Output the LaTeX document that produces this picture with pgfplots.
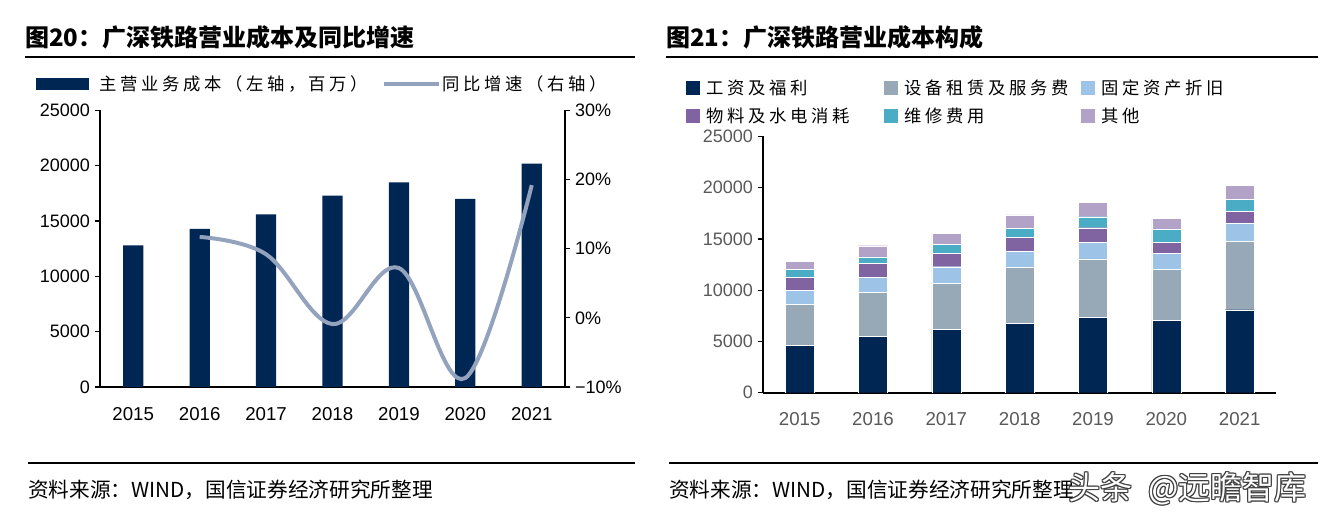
\documentclass[border=0pt]{standalone}
\usepackage{pgfplots}
\pgfplotsset{compat=1.18}
\usepackage{fontspec}
\setmainfont{Liberation Sans}
\newfontfamily\cjk{Noto Sans CJK SC}
\newfontfamily\cjkls{Noto Sans CJK SC}[LetterSpace=21]
\definecolor{navy}{HTML}{002654}
\definecolor{lineg}{HTML}{94A3BD}
\definecolor{grayb}{HTML}{97A9B7}
\definecolor{lblue}{HTML}{9DC3E6}
\definecolor{purp}{HTML}{8064A2}
\definecolor{teal2}{HTML}{4BACC6}
\definecolor{lav}{HTML}{B3A2C7}
\definecolor{tickgray}{HTML}{595959}
\pgfplotsset{
  base/.style={
    scale only axis, anchor=south west,
    xmin=-0.5, xmax=6.5,
    tick align=outside, major tick length=4pt,
    xtick style={draw=none},
    ytick style={black, line width=0.9pt},
    axis line style={-, black},
    scaled y ticks=false,
    /pgf/number format/1000 sep={},
    /pgf/number format/assume math mode=true,
    ticklabel style={font=\fontsize{13.5}{15}\selectfont},
    xticklabel style={yshift=-7.5pt, font=\fontsize{14}{16}\selectfont},
    xtick={0,...,6},
    xticklabels={2015,2016,2017,2018,2019,2020,2021},
  }
}
\begin{document}
\begin{tikzpicture}[x=0.75pt,y=0.75pt]
\path[use as bounding box, fill=white] (0,0) rectangle (1323,517);
% ---------- titles ----------
\node[anchor=west, inner sep=0pt] at (25,480) {\cjk\bfseries\fontsize{18}{20}\selectfont 图20：广深铁路营业成本及同比增速};
\draw[line width=1.2pt] (25,460) -- (635,460);
\node[anchor=west, inner sep=0pt] at (666,480) {\cjk\bfseries\fontsize{18}{20}\selectfont 图21：广深铁路营业成本构成};
\draw[line width=1.2pt] (666,460) -- (1318,460);
% ---------- footers ----------
\draw[line width=1.5pt] (28,54) -- (635,54);
\draw[line width=1.5pt] (669,54) -- (1318,54);
\node[anchor=west, inner sep=0pt] at (28,27) {\cjk\fontsize{15.5}{17}\selectfont 资料来源：WIND，国信证券经济研究所整理};
\node[anchor=west, inner sep=0pt] at (669,27) {\cjk\fontsize{15.5}{17}\selectfont 资料来源：WIND，国信证券经济研究所整理};
% watermark
\foreach \dx/\dy in {-1/0,1/0,0/-1,0/1,-1/-1,1/1,-1/1,1/-1}{
  \node[anchor=west, inner sep=0pt, text=black!75] at (1068+\dx,28+\dy) {\cjk\fontsize{24}{27}\selectfont 头条\hspace{12pt}@远瞻智库};
}
\node[anchor=west, inner sep=0pt, text=white] at (1068,28) {\cjk\fontsize{24}{27}\selectfont 头条\hspace{12pt}@远瞻智库};
% ---------- left legend ----------
\fill[navy] (36,427) rectangle (89,439);
\node[anchor=west, inner sep=0pt] at (99,433) {\cjkls\fontsize{13}{15}\selectfont 主营业务成本（左轴，百万）};
\draw[lineg, line width=3pt] (384,433) -- (439,433);
\node[anchor=west, inner sep=0pt] at (442,433) {\cjkls\fontsize{13}{15}\selectfont 同比增速（右轴）};
% ---------- right legend ----------
\fill[navy]  (686,422) rectangle (700,436);
\fill[grayb] (884,422) rectangle (898,436);
\fill[lblue] (1081,422) rectangle (1095,436);
\fill[purp]  (686,394) rectangle (700,408);
\fill[teal2] (884,394) rectangle (898,408);
\fill[lav]   (1081,394) rectangle (1095,408);
\node[anchor=west, inner sep=0pt] at (706,429) {\cjkls\fontsize{13}{15}\selectfont 工资及福利};
\node[anchor=west, inner sep=0pt] at (904,429) {\cjkls\fontsize{13}{15}\selectfont 设备租赁及服务费};
\node[anchor=west, inner sep=0pt] at (1101,429) {\cjkls\fontsize{13}{15}\selectfont 固定资产折旧};
\node[anchor=west, inner sep=0pt] at (706,401) {\cjkls\fontsize{13}{15}\selectfont 物料及水电消耗};
\node[anchor=west, inner sep=0pt] at (904,401) {\cjkls\fontsize{13}{15}\selectfont 维修费用};
\node[anchor=west, inner sep=0pt] at (1101,401) {\cjkls\fontsize{13}{15}\selectfont 其他};
% ---------- left chart ----------
\begin{axis}[base,
  at={(75pt,97.5pt)}, width=348.75pt, height=207.45pt,
  ymin=0, ymax=25000, ytick={0,5000,...,25000},
  axis x line*=bottom, axis y line*=left,
  x axis line style={line width=1.5pt},
  y axis line style={line width=0.9pt},
]
\addplot[ybar, bar width=15.2pt, fill=navy, draw=none] coordinates {
(0,12800) (1,14300) (2,15600) (3,17300) (4,18500) (5,17000) (6,20200)};
\end{axis}
\begin{axis}[base,
  at={(75pt,97.5pt)}, width=348.75pt, height=207.45pt,
  ymin=-10, ymax=30, ytick={-10,0,10,20,30},
  yticklabels={−10\%,0\%,10\%,20\%,30\%},
  axis x line=none, axis y line*=right,
  y axis line style={line width=0.9pt},
]
\addplot[lineg, line width=3pt, smooth, tension=0.6] coordinates {
(1,11.7) (2,9.2) (3,-0.9) (4,7.2) (5,-8.7) (6,19.2)};
\end{axis}
% ---------- right chart ----------
\begin{axis}[base,
  at={(572.25pt,93.2pt)}, width=385pt, height=192.2pt,
  ybar stacked, bar width=21.8pt,
  ymin=0, ymax=25000, ytick={0,5000,...,25000},
  axis x line*=bottom, axis y line*=left,
  x axis line style={line width=1.8pt},
  y axis line style={line width=0.9pt},
  ticklabel style={text=tickgray},
]
\addplot[fill=navy, draw=white, line width=0.3pt] coordinates {(0,4650) (1,5530) (2,6210) (3,6800) (4,7380) (5,7090) (6,8100)};
\addplot[fill=grayb, draw=white, line width=0.3pt] coordinates {(0,4000) (1,4290) (2,4455) (3,5430) (4,5690) (5,4945) (6,6665)};
\addplot[fill=lblue, draw=white, line width=0.3pt] coordinates {(0,1370) (1,1460) (2,1625) (3,1530) (4,1625) (5,1595) (6,1755)};
\addplot[fill=purp, draw=white, line width=0.3pt] coordinates {(0,1270) (1,1365) (2,1300) (3,1400) (4,1400) (5,1040) (6,1205)};
\addplot[fill=teal2, draw=white, line width=0.3pt] coordinates {(0,715) (1,620) (2,880) (3,880) (4,1075) (5,1235) (6,1170)};
\addplot[fill=lav, draw=white, line width=0.3pt] coordinates {(0,813) (1,1075) (2,1105) (3,1300) (4,1400) (5,1075) (6,1365)};
\end{axis}
\end{tikzpicture}
\end{document}
